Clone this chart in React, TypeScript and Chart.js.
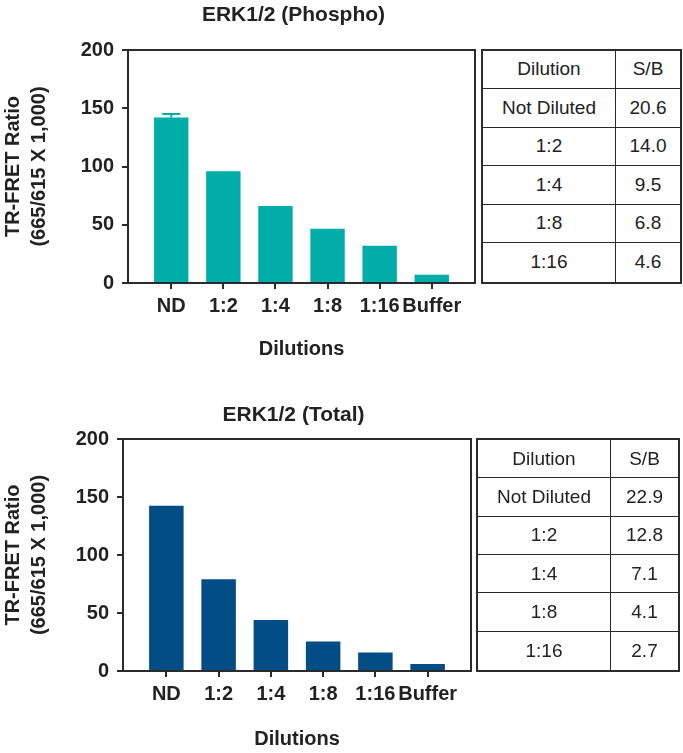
import React, { useEffect, useRef } from "react";
import { Chart, registerables } from "chart.js";

Chart.register(...registerables);

// ---- data ----
const categories = ["ND", "1:2", "1:4", "1:8", "1:16", "Buffer"];
const phosphoValues = [142, 96, 66, 46.5, 32, 7];
const phosphoErrors = [3, 0, 0, 0, 0, 0];
const totalValues = [142.5, 79, 44, 25.5, 16, 6];
const totalErrors = [0, 0, 0, 0, 0, 0];
const yTicks = [0, 50, 100, 150, 200];
const yTitle = ["TR-FRET Ratio", "(665/615 X 1,000)"];
const xTitle = "Dilutions";
const tableHeader = ["Dilution", "S/B"];
const tableDilutions = ["Not Diluted", "1:2", "1:4", "1:8", "1:16"];
const phosphoSB = ["20.6", "14.0", "9.5", "6.8", "4.6"];
const totalSB = ["22.9", "12.8", "7.1", "4.1", "2.7"];

const FONT = 'Arial, "Liberation Sans", Helvetica, sans-serif';
const INK = "#222222";
const LINE = "#2b2b2b";

type ChartProps = {
  title: string;
  values: number[];
  errors: number[];
  color: string;
  top: number;
  width: number;
  height: number;
  padRight: number;
  yWidth: number;
  xHeight: number;
  titleX: number;
  titleY: number;
};

function BarChart(p: ChartProps) {
  const ref = useRef<HTMLCanvasElement | null>(null);

  useEffect(() => {
    if (!ref.current) return;
    const boldFont = { family: FONT, size: 20, weight: "bold" as const };

    const framePlugin = {
      id: "frame",
      afterDatasetsDraw(chart: any) {
        const { ctx, chartArea, scales } = chart;
        const xs = scales.x;
        const ys = scales.y;
        ctx.save();
        ctx.strokeStyle = p.color;
        ctx.lineWidth = 2;
        p.values.forEach((v, i) => {
          const e = p.errors[i];
          if (!e) return;
          const x = xs.getPixelForValue(i);
          const yb = ys.getPixelForValue(v);
          const yt = ys.getPixelForValue(v + e);
          ctx.beginPath();
          ctx.moveTo(x, yb);
          ctx.lineTo(x, yt);
          ctx.moveTo(x - 9, yt);
          ctx.lineTo(x + 9, yt);
          ctx.stroke();
        });
        ctx.restore();
        ctx.save();
        ctx.strokeStyle = LINE;
        ctx.lineWidth = 2;
        ctx.strokeRect(
          chartArea.left,
          chartArea.top,
          chartArea.right - chartArea.left,
          chartArea.bottom - chartArea.top
        );
        ctx.restore();
      },
      afterDraw(chart: any) {
        const { ctx } = chart;
        ctx.save();
        ctx.font = `bold 21px ${FONT}`;
        ctx.fillStyle = INK;
        ctx.textAlign = "center";
        ctx.textBaseline = "middle";
        ctx.fillText(p.title, p.titleX, p.titleY);
        ctx.restore();
      },
    };

    const chart = new Chart(ref.current, {
      type: "bar",
      data: {
        datasets: [
          {
            data: p.values.map((v, i) => ({ x: i, y: v })),
            backgroundColor: p.color,
            borderWidth: 0,
            barPercentage: 0.66,
            categoryPercentage: 1,
          },
        ],
      },
      options: {
        responsive: false,
        animation: false,
        devicePixelRatio: 1,
        layout: { padding: { top: 50, right: p.padRight, left: 0, bottom: 0 } },
        plugins: {
          legend: { display: false },
          tooltip: { enabled: false },
          title: { display: false },
        },
        scales: {
          x: {
            type: "linear",
            offset: false,
            min: -0.83,
            max: 5.83,
            afterBuildTicks: (s: any) => {
              s.ticks = categories.map((_, i) => ({ value: i }));
            },
            afterFit: (s: any) => {
              s.height = p.xHeight;
            },
            ticks: {
              callback: (v: any) => categories[v] ?? "",
              font: boldFont,
              color: INK,
              padding: 5,
              autoSkip: false,
              maxRotation: 0,
            },
            grid: {
              offset: false,
              drawOnChartArea: false,
              drawTicks: true,
              tickLength: 6,
              color: LINE,
              lineWidth: 2,
            },
            border: { display: true, color: LINE, width: 2 },
            title: {
              display: true,
              text: xTitle,
              font: boldFont,
              color: INK,
              padding: { top: 0, bottom: 2 },
            },
          },
          y: {
            min: 0,
            max: 200,
            afterBuildTicks: (s: any) => {
              s.ticks = yTicks.map((v) => ({ value: v }));
            },
            afterFit: (s: any) => {
              s.width = p.yWidth;
            },
            ticks: { font: boldFont, color: INK, padding: 8 },
            grid: {
              drawOnChartArea: false,
              drawTicks: true,
              tickLength: 6,
              color: LINE,
              lineWidth: 2,
            },
            border: { display: true, color: LINE, width: 2 },
            title: {
              display: true,
              text: yTitle,
              font: { family: FONT, size: 20, weight: "bold", lineHeight: 1.3 },
              color: INK,
              padding: 0,
            },
          },
        },
      } as any,
      plugins: [framePlugin],
    });
    return () => chart.destroy();
  }, []);

  return (
    <canvas
      ref={ref}
      width={p.width}
      height={p.height}
      style={{ position: "absolute", left: 0, top: p.top, width: p.width, height: p.height, display: "block" }}
    />
  );
}

type TableProps = { left: number; top: number; width: number; height: number; col1: number; sb: string[] };

function SBTable(t: TableProps) {
  const rows = [tableHeader, ...tableDilutions.map((d, i) => [d, t.sb[i]])];
  const cell = (text: string, right: boolean, bottom: boolean, key: string) => (
    <div
      key={key}
      style={{
        boxSizing: "border-box",
        borderRight: right ? `1.5px solid ${LINE}` : "none",
        borderBottom: bottom ? `1.5px solid ${LINE}` : "none",
        display: "flex",
        alignItems: "center",
        justifyContent: "center",
        whiteSpace: "nowrap",
      }}
    >
      {text}
    </div>
  );
  return (
    <div
      style={{
        position: "absolute",
        left: t.left,
        top: t.top,
        width: t.width,
        height: t.height,
        boxSizing: "border-box",
        border: `2px solid ${LINE}`,
        display: "grid",
        gridTemplateColumns: `${t.col1}px 1fr`,
        gridTemplateRows: "repeat(6, 1fr)",
        fontFamily: FONT,
        fontSize: 19,
        color: INK,
      }}
    >
      {rows.map((r, i) => [
        cell(r[0], true, i < rows.length - 1, `a${i}`),
        cell(r[1], false, i < rows.length - 1, `b${i}`),
      ])}
    </div>
  );
}

export default function App() {
  return (
    <div style={{ position: "absolute", left: 0, top: 0, width: 683, height: 753, overflow: "hidden", background: "#fff" }}>
      <BarChart
        title="ERK1/2 (Phospho)"
        values={phosphoValues}
        errors={phosphoErrors}
        color="#00ADA9"
        top={0}
        width={480}
        height={363}
        padRight={5}
        yWidth={128}
        xHeight={80}
        titleX={293.5}
        titleY={15}
      />
      <SBTable left={481} top={48.5} width={201} height={235} col1={133} sb={phosphoSB} />
      <BarChart
        title="ERK1/2 (Total)"
        values={totalValues}
        errors={totalErrors}
        color="#034D86"
        top={389}
        width={480}
        height={364}
        padRight={9}
        yWidth={123}
        xHeight={82}
        titleX={293.5}
        titleY={26}
      />
      <SBTable left={476} top={438} width={204} height={234} col1={133} sb={totalSB} />
    </div>
  );
}
